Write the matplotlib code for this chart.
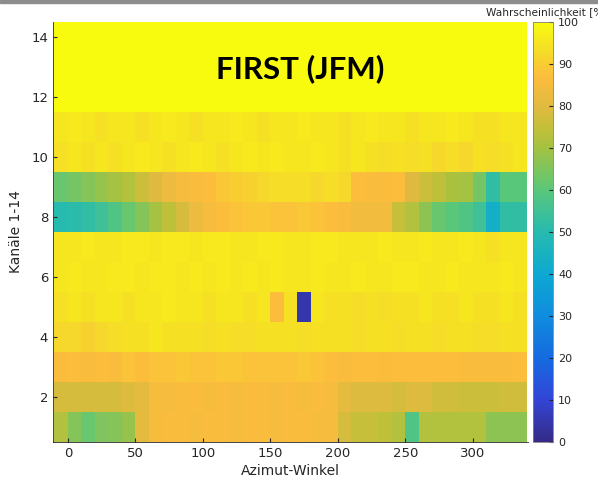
import numpy as np
import matplotlib
matplotlib.use("Agg")
import matplotlib.pyplot as plt
from matplotlib.colors import LinearSegmentedColormap
from matplotlib.patches import Rectangle

# azimuth bin edges (-10 .. 340) and channels 1-14
az_edges = [-10, 0, 10, 20, 30, 40, 50, 60, 70, 80, 90, 100, 110, 120, 130, 140, 150, 160,
            170, 180, 190, 200, 210, 220, 230, 240, 250, 260, 270, 280, 290, 300, 310, 320,
            330, 340]
channels = [1, 2, 3, 4, 5, 6, 7, 8, 9, 10, 11, 12, 13, 14]

ch1 = [72, 66, 62, 65, 66, 68, 81, 85, 86, 86, 85, 86, 86, 85, 86, 86, 85, 86, 86, 85, 85, 78, 75, 75, 74, 72, 58, 72, 72, 72, 72, 72, 67, 67, 67]
ch2 = [78, 78, 78, 78, 78, 79, 81, 85, 85, 86, 86, 85, 86, 85, 86, 86, 85, 86, 85, 86, 85, 81, 79, 79, 79, 78, 79, 79, 77, 77, 76, 76, 76, 77, 77]
ch3 = [86, 87, 86, 87, 86, 88, 87, 88, 88, 89, 88, 88, 89, 89, 88, 88, 88, 88, 89, 88, 87, 86, 87, 87, 86, 87, 87, 87, 87, 87, 86, 86, 86, 86, 87]
ch4 = [92, 92, 91, 92, 93, 94, 94, 95, 94, 94, 94, 93, 94, 93, 93, 94, 94, 94, 93, 94, 94, 94, 93, 94, 94, 93, 94, 94, 93, 94, 94, 93, 93, 94, 94]
ch5 = [94, 95, 94, 95, 95, 94, 95, 95, 96, 95, 95, 94, 95, 95, 94, 95, 87, 94, 5, 95, 94, 94, 93, 94, 93, 94, 94, 95, 94, 94, 95, 94, 94, 95, 94]
ch6 = [95, 96, 95, 95, 96, 96, 95, 96, 96, 95, 96, 95, 96, 95, 96, 95, 96, 95, 95, 96, 95, 95, 96, 95, 95, 96, 96, 95, 95, 96, 95, 95, 95, 96, 95]
ch7 = [95, 95, 96, 95, 95, 96, 96, 95, 96, 96, 95, 96, 96, 95, 95, 96, 96, 95, 95, 96, 96, 95, 95, 95, 96, 95, 95, 96, 95, 95, 96, 95, 94, 95, 95]
ch8 = [50, 51, 52, 55, 58, 62, 66, 70, 74, 78, 83, 85, 87, 88, 89, 89, 88, 88, 89, 88, 87, 86, 84, 84, 84, 75, 72, 67, 62, 60, 58, 55, 43, 52, 52]
ch9 = [62, 64, 66, 68, 70, 72, 76, 80, 83, 85, 86, 87, 89, 90, 91, 92, 93, 93, 93, 92, 93, 92, 87, 86, 86, 87, 80, 76, 74, 71, 70, 64, 52, 60, 60]
ch10 = [94, 95, 94, 95, 94, 95, 96, 95, 94, 95, 96, 95, 94, 95, 96, 95, 96, 95, 95, 96, 95, 94, 95, 94, 93, 94, 93, 94, 92, 93, 92, 94, 93, 94, 95]
ch11 = [95, 96, 95, 94, 95, 95, 94, 95, 96, 95, 94, 95, 95, 96, 95, 94, 95, 95, 96, 95, 95, 94, 95, 96, 95, 95, 94, 95, 95, 96, 95, 94, 94, 95, 95]
ch12 = [100, 100, 100, 100, 100, 100, 100, 100, 100, 100, 100, 100, 100, 100, 100, 100, 100, 100, 100, 100, 100, 100, 100, 100, 100, 100, 100, 100, 100, 100, 100, 100, 100, 100, 100]
ch13 = [100, 100, 100, 100, 100, 100, 100, 100, 100, 100, 100, 100, 100, 100, 100, 100, 100, 100, 100, 100, 100, 100, 100, 100, 100, 100, 100, 100, 100, 100, 100, 100, 100, 100, 100]
ch14 = [100, 100, 100, 100, 100, 100, 100, 100, 100, 100, 100, 100, 100, 100, 100, 100, 100, 100, 100, 100, 100, 100, 100, 100, 100, 100, 100, 100, 100, 100, 100, 100, 100, 100, 100]

title = "FIRST (JFM)"
x_label = "Azimut-Winkel"
y_label = "Kanäle 1-14"
cbar_label = "Wahrscheinlichkeit [%]"

# rough MATLAB parula
parula_pts = [
    (0.00, (0.208, 0.166, 0.529)),
    (0.10, (0.200, 0.270, 0.840)),
    (0.20, (0.080, 0.420, 0.880)),
    (0.30, (0.060, 0.550, 0.870)),
    (0.40, (0.050, 0.660, 0.820)),
    (0.50, (0.150, 0.730, 0.690)),
    (0.60, (0.350, 0.780, 0.480)),
    (0.70, (0.640, 0.760, 0.260)),
    (0.75, (0.770, 0.750, 0.220)),
    (0.80, (0.880, 0.730, 0.250)),
    (0.87, (0.990, 0.740, 0.240)),
    (0.93, (0.960, 0.860, 0.160)),
    (1.00, (0.976, 0.983, 0.054)),
]
parula = LinearSegmentedColormap.from_list("parula", parula_pts, N=256)

data = np.array([ch1, ch2, ch3, ch4, ch5, ch6, ch7, ch8, ch9, ch10, ch11, ch12, ch13, ch14])
y_edges = np.arange(len(channels) + 1) + 0.5

fig = plt.figure(figsize=(5.98, 4.90), dpi=100)
ax = fig.add_axes([0.0886, 0.098, 0.7944, 0.857])
cax = fig.add_axes([0.892, 0.098, 0.033, 0.857])

mesh = ax.pcolormesh(az_edges, y_edges, data, cmap=parula, vmin=0, vmax=100)
ax.set_xlim(-11, 341)
ax.set_ylim(0.5, 14.5)

txt_col = (0.15, 0.15, 0.15)
ax.set_xticks([0, 50, 100, 150, 200, 250, 300])
ax.set_yticks([2, 4, 6, 8, 10, 12, 14])
ax.tick_params(direction="in", length=3, labelsize=9.5, colors=txt_col, top=False, right=False)
for s in ["top", "right"]:
    ax.spines[s].set_visible(False)
for s in ["left", "bottom"]:
    ax.spines[s].set_color(txt_col)
    ax.spines[s].set_linewidth(0.6)
ax.set_xlabel(x_label, fontsize=10, color=txt_col, labelpad=3)
ax.set_ylabel(y_label, fontsize=10, color=txt_col, labelpad=6)

ax.text(0.52, 0.89, title, transform=ax.transAxes, ha="center", va="center",
        fontsize=22.5, fontweight="bold", family="Lato", color="black")

cb = fig.colorbar(mesh, cax=cax)
cb.set_ticks([0, 10, 20, 30, 40, 50, 60, 70, 80, 90, 100])
cb.ax.tick_params(direction="in", length=3, labelsize=8, colors=txt_col)
cb.outline.set_edgecolor((0.5, 0.5, 0.5))
cb.outline.set_linewidth(0.6)
# label runs off the right edge, as in the reference screenshot
fig.text(0.813, 0.975, cbar_label, fontsize=7.6, color=txt_col, ha="left", va="center")

# screenshot frame
fig.patches.append(Rectangle((0, 0.994), 1, 0.006, transform=fig.transFigure,
                             color=(0.55, 0.55, 0.55), zorder=5))

fig.savefig("out.png", dpi=100)
